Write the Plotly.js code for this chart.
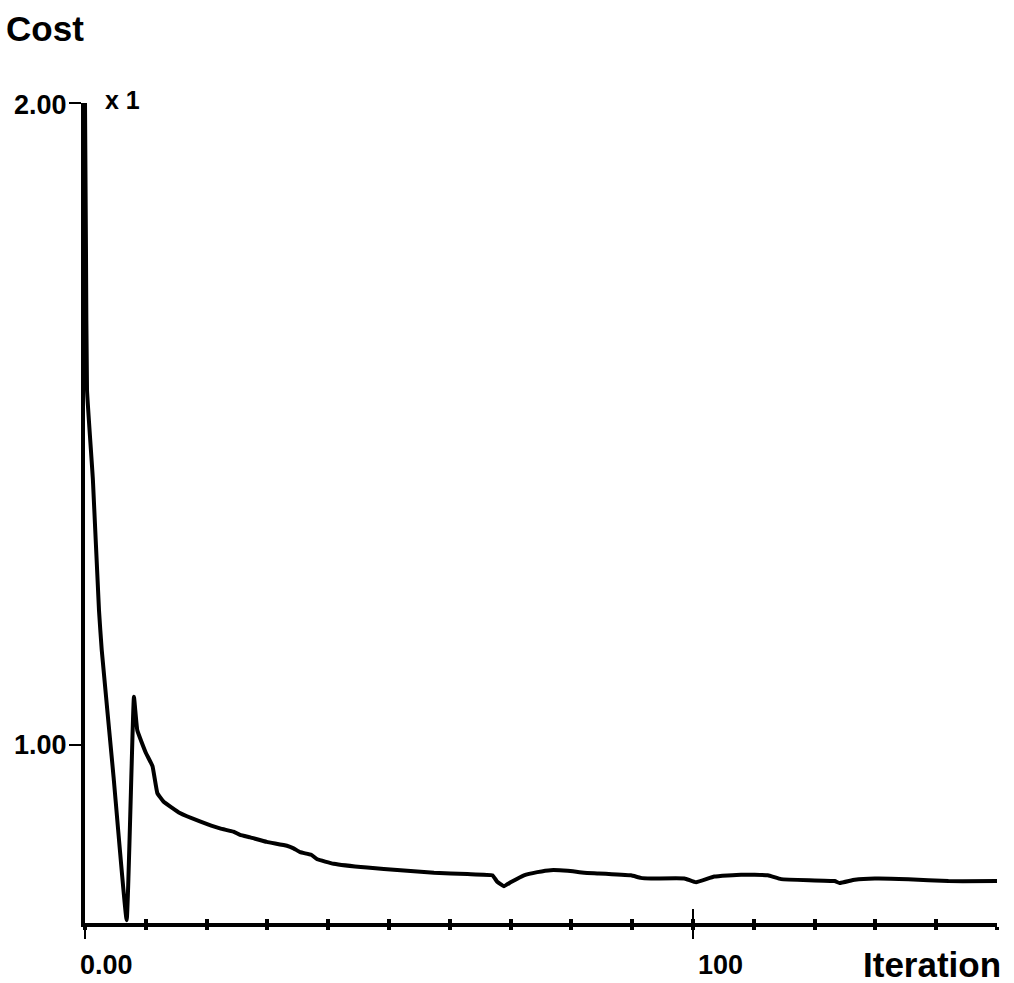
<!DOCTYPE html>
<html>
<head>
<meta charset="utf-8">
<script src="https://cdn.plot.ly/plotly-3.0.1.min.js"></script>
<style>html,body{margin:0;padding:0;background:#fff;}#chart{width:1014px;height:983px;}</style>
</head>
<body>
<div id="chart"></div>
<script>
// Iteration numbers (x) and cost values (y)
const iterations = [0, 0.16, 0.33, 1.3, 2.3, 2.75, 4.7, 6.85, 8.05, 8.6, 10.0, 11.1, 11.9, 12.9,
  15.6, 18.9, 22.2, 24.4, 25.5, 27.2, 29.9, 33.2, 34.3, 35.4, 37.2, 38.2, 40.9, 46.4, 51.9,
  57.4, 62.9, 67.0, 67.8, 68.9, 70.0, 72.2, 74.4, 76.6, 79.4, 82.1, 84.5, 89.8, 91.4, 93.1,
  98.6, 100.5, 103.5, 107.9, 112.3, 114.5, 123.3, 124.1, 126.6, 129.9, 135.4, 142.0, 150];
const cost = [2.000, 1.771, 1.553, 1.413, 1.210, 1.148, 0.950, 0.727, 1.075, 1.023, 0.988, 0.967,
  0.925, 0.912, 0.894, 0.881, 0.870, 0.865, 0.860, 0.856, 0.849, 0.843, 0.839, 0.833, 0.829,
  0.822, 0.815, 0.809, 0.805, 0.801, 0.799, 0.797, 0.787, 0.780, 0.786, 0.797, 0.802, 0.805,
  0.804, 0.801, 0.800, 0.797, 0.793, 0.792, 0.792, 0.786, 0.795, 0.798, 0.797, 0.791, 0.788,
  0.785, 0.790, 0.792, 0.791, 0.788, 0.788];

const xRange = [0, 150];
const yRange = [0.7227, 2.0];
const xMajorTicks = [0, 100];
const xTickLabels = ['0.00', '100'];
const yMajorTicks = [1, 2];
const yTickLabels = ['1.00', '2.00'];
const xTitle = 'Iteration';
const yTitle = 'Cost';
const scaleNote = 'x 1';

const FONT = 'Liberation Sans, Arial, Helvetica, sans-serif';

const traces = [
  {x: iterations, y: cost, type: 'scatter', mode: 'lines',
   line: {color: '#000', width: 4, shape: 'spline', smoothing: 0.3},
   hoverinfo: 'skip', showlegend: false},
  {x: [], y: [], xaxis: 'x2', yaxis: 'y2', type: 'scatter', showlegend: false}
];

const annotations = [];
yMajorTicks.forEach((v, i) => annotations.push({
  xref: 'paper', yref: 'y', x: 0, y: v, xanchor: 'right', yanchor: 'middle',
  xshift: -16, yshift: i === 1 ? -2 : 0, text: '<b>' + yTickLabels[i] + '</b>', showarrow: false,
  font: {family: FONT, size: 27, color: '#000'}
}));
xMajorTicks.forEach((v, i) => annotations.push({
  xref: 'x', yref: 'paper', x: v, y: 0, xanchor: 'left', yanchor: 'middle',
  xshift: i === 0 ? -7 : 3, yshift: -42, text: '<b>' + xTickLabels[i] + '</b>', showarrow: false,
  font: {family: FONT, size: 27, color: '#000'}
}));
annotations.push({
  xref: 'paper', yref: 'paper', x: 1, y: 0, xanchor: 'right', yanchor: 'middle',
  xshift: 6, yshift: -41, text: '<b>' + xTitle + '</b>', showarrow: false,
  font: {family: FONT, size: 35, color: '#000'}
});
annotations.push({
  xref: 'paper', yref: 'y', x: 0, y: yRange[1], xanchor: 'left', yanchor: 'middle',
  xshift: 18, yshift: 3, text: '<b>' + scaleNote + '</b>', showarrow: false,
  font: {family: FONT, size: 25, color: '#000'}
});

const layout = {
  width: 1014, height: 983,
  margin: {l: 85, r: 17, t: 103, b: 60, pad: 0},
  paper_bgcolor: '#fff', plot_bgcolor: '#fff',
  title: {text: '<b>' + yTitle + '</b>', x: 0.006, xanchor: 'left', xref: 'container',
          y: 1 - 29 / 983, yanchor: 'middle', yref: 'container',
          font: {family: FONT, size: 35, color: '#000'}},
  xaxis: {range: xRange, showline: true, linewidth: 4, linecolor: '#000', mirror: false,
          showgrid: false, zeroline: false, showticklabels: false,
          tickmode: 'array', tickvals: xMajorTicks, ticks: 'outside', ticklen: 12, tickwidth: 2, tickcolor: '#000',
          minor: {ticks: 'outside', dtick: 10, tick0: 0, ticklen: 3, tickwidth: 4, tickcolor: '#000', showgrid: false}},
  yaxis: {range: yRange, showline: true, linewidth: 4, linecolor: '#000',
          showgrid: false, zeroline: false, showticklabels: false,
          tickmode: 'array', tickvals: yMajorTicks, ticks: 'outside', ticklen: 12, tickwidth: 2, tickcolor: '#000'},
  xaxis2: {range: xRange, overlaying: 'x', anchor: 'y2', showline: false, showgrid: false, zeroline: false,
           showticklabels: false, tickmode: 'array', tickvals: [100], ticks: 'inside', ticklen: 14,
           tickwidth: 2, tickcolor: '#000',
           minor: {ticks: 'inside', dtick: 10, tick0: 0, ticklen: 4, tickwidth: 4, tickcolor: '#000', showgrid: false}},
  yaxis2: {range: yRange, overlaying: 'y', anchor: 'x2', showline: false, showgrid: false, zeroline: false,
           showticklabels: false, tickmode: 'array', tickvals: [2], ticks: 'inside', ticklen: 12,
           tickwidth: 2, tickcolor: '#000'},
  annotations: annotations,
  showlegend: false
};

Plotly.newPlot('chart', traces, layout, {staticPlot: true, displayModeBar: false});
</script>
</body>
</html>
